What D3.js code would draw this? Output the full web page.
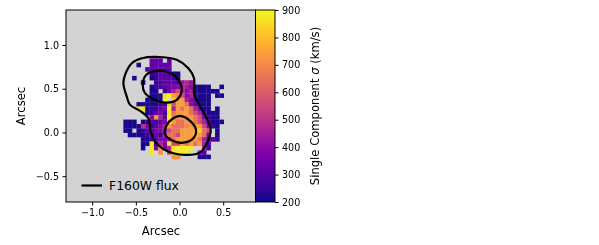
<!DOCTYPE html>
<html lang="en">
<head>
<meta charset="utf-8">
<style>
  body { margin: 0; background: white; }
  svg { display: block; font-family: "DejaVu Sans", sans-serif; filter: blur(0.35px); }
  .tick text { font-size: 9.6px; fill: #000; font-family: "DejaVu Sans", sans-serif; }
  .domain { display: none; }
</style>
<title></title>
</head>
<body>
<script src="https://d3js.org/d3.v7.min.js"></script>
<script>
const _ = null;

// velocity dispersion map, 0.05" cells
const cellSize = 0.05;
const gridLeft = -0.643;
const gridTop = 0.847;
const sigmaRows = [
  [_,_,_,_,_,_,330,330,330,_,330,_,_,_,_,_,_,_,_,_,_,_,_],
  [_,_,_,215,_,_,330,340,340,330,330,_,_,_,_,_,_,_,_,_,_,_,_],
  [_,_,_,_,_,280,330,340,340,340,330,_,_,_,_,_,_,_,_,_,_,_,_],
  [_,_,_,_,_,_,260,260,320,320,280,230,215,_,_,_,_,_,_,_,_,_,_],
  [_,_,215,_,_,_,215,260,320,320,320,260,215,_,_,_,_,_,_,_,_,_,_],
  [_,_,_,_,215,_,_,240,280,320,320,320,280,430,480,420,_,_,_,_,_,_,_],
  [_,_,_,_,_,_,215,260,280,320,360,380,400,460,440,400,215,215,215,215,_,_,215],
  [_,_,_,_,_,_,215,215,_,260,360,460,560,460,400,460,215,215,215,215,215,215,_],
  [_,_,_,_,_,_,215,215,215,860,890,740,700,560,400,460,260,215,215,215,_,215,215],
  [_,_,_,_,_,215,215,215,215,890,_,820,740,740,460,400,260,215,215,215,_,_,_],
  [_,_,_,215,215,215,215,215,260,260,820,560,740,740,650,400,320,215,215,215,_,_,_],
  [_,_,_,860,860,215,260,260,320,380,890,460,740,650,740,650,460,380,215,215,_,215,_],
  [_,_,_,_,_,215,260,320,380,260,860,650,740,740,740,650,560,460,320,215,215,215,_],
  [_,_,_,_,_,_,380,720,460,320,890,650,700,740,700,740,650,560,380,260,215,215,_],
  [215,215,215,_,215,260,320,260,320,380,860,740,650,650,740,740,650,560,460,260,215,215,215],
  [215,215,215,215,500,380,260,320,380,460,740,650,650,650,700,740,740,740,560,380,260,215,_],
  [215,215,_,215,260,320,320,380,380,460,560,650,650,740,740,740,740,820,650,560,_,215,_],
  [_,215,215,215,215,260,320,320,260,460,650,650,560,740,740,740,820,740,650,380,_,215,_],
  [_,_,_,_,215,215,260,320,380,380,460,650,740,740,740,740,740,650,460,260,320,260,_],
  [_,_,_,_,215,215,870,260,460,380,860,560,560,740,650,740,650,740,460,320,_,_,_],
  [_,_,_,_,215,_,870,380,720,380,460,860,880,880,880,880,_,_,460,260,_,_,_],
  [_,_,_,_,_,_,870,_,720,_,560,880,880,880,880,_,_,460,320,_,_,_,_],
  [_,_,_,_,_,_,_,_,_,_,_,720,720,_,_,_,_,215,215,215,_,_,_]
];

// F160W contours in arcsec
const contourOuter = [[-0.432,0.849],[-0.185,0.860],[-0.032,0.830],[0.101,0.735],[0.166,0.620],[0.166,0.449],[0.215,0.334],[0.311,0.162],[0.357,0.029],[0.311,-0.124],[0.235,-0.231],[0.082,-0.257],[-0.071,-0.238],[-0.185,-0.189],[-0.280,-0.105],[-0.330,0.009],[-0.357,0.162],[-0.452,0.246],[-0.566,0.315],[-0.604,0.410],[-0.643,0.563],[-0.624,0.658],[-0.547,0.792]];
const contourTop = [[-0.261,0.704],[-0.109,0.684],[-0.014,0.601],[0.025,0.486],[-0.032,0.372],[-0.146,0.341],[-0.280,0.372],[-0.395,0.449],[-0.421,0.543],[-0.383,0.658]];
const contourBottom = [[0.006,0.189],[0.120,0.132],[0.189,0.029],[0.158,-0.066],[0.043,-0.117],[-0.071,-0.097],[-0.166,-0.021],[-0.146,0.086],[-0.071,0.162]];

const xTicks = [-1.0, -0.5, 0.0, 0.5];
const yTicks = [-0.5, 0.0, 0.5, 1.0];
const cbarTicks = [200, 300, 400, 500, 600, 700, 800, 900];

const svg = d3.select("body").append("svg").attr("width", 599).attr("height", 245);

const x = d3.scaleLinear().domain([-1.30, 0.87]).range([66, 255.5]);
const y = d3.scaleLinear().domain([-0.795, 1.40]).range([202, 10]);
const cbarY = d3.scaleLinear().domain([200, 900]).range([202, 10]);
const color = d3.scaleSequential(d3.interpolatePlasma).domain([200, 900]);

svg.append("rect").attr("x", 66).attr("y", 10).attr("width", 189.5).attr("height", 192)
  .attr("fill", "lightgray");

// map cells
const cells = [];
sigmaRows.forEach(function(row, r) {
  row.forEach(function(v, c) {
    if (v !== null) cells.push({r: r, c: c, v: v});
  });
});
svg.append("g").selectAll("rect").data(cells).enter().append("rect")
  .attr("x", d => x(gridLeft + d.c * cellSize))
  .attr("y", d => y(gridTop - d.r * cellSize))
  .attr("width", x(cellSize) - x(0) + 0.2)
  .attr("height", y(0) - y(cellSize) + 0.2)
  .attr("fill", d => color(d.v));

// contours
const line = d3.line().x(d => x(d[0])).y(d => y(d[1])).curve(d3.curveCatmullRomClosed);
svg.append("g").selectAll("path")
  .data([contourOuter, contourTop, contourBottom]).enter().append("path")
  .attr("d", line).attr("fill", "none").attr("stroke", "black").attr("stroke-width", 2.2);

// legend
svg.append("line").attr("x1", 81.5).attr("x2", 102).attr("y1", 185.5).attr("y2", 185.5)
  .attr("stroke", "black").attr("stroke-width", 2.2);
svg.append("text").attr("x", 109).attr("y", 189.5).attr("font-size", 12.4).text("F160W flux");

// axes
const fmt = v => fmt1(v).replace("-", "\u2212");
const fmt1 = d3.format(".1f");
svg.append("g").attr("transform", "translate(0,202)")
  .call(d3.axisBottom(x).tickValues(xTicks).tickFormat(fmt).tickSize(3.5).tickPadding(3.5));
svg.append("g").attr("transform", "translate(66,0)")
  .call(d3.axisLeft(y).tickValues(yTicks).tickFormat(fmt).tickSize(3.5).tickPadding(3.5));

svg.append("rect").attr("x", 66).attr("y", 10).attr("width", 189.5).attr("height", 192)
  .attr("fill", "none").attr("stroke", "black").attr("stroke-width", 1);

// colorbar
const grad = svg.append("defs").append("linearGradient").attr("id", "cbar")
  .attr("x1", 0).attr("x2", 0).attr("y1", 1).attr("y2", 0);
d3.range(0, 1.001, 0.05).forEach(function(t) {
  grad.append("stop").attr("offset", t).attr("stop-color", d3.interpolatePlasma(t));
});
svg.append("rect").attr("x", 255.5).attr("y", 10).attr("width", 19.5).attr("height", 192)
  .attr("fill", "url(#cbar)").attr("stroke", "black").attr("stroke-width", 1);
svg.append("g").attr("transform", "translate(275,0)")
  .call(d3.axisRight(cbarY).tickValues(cbarTicks).tickSize(3.5).tickPadding(3.5));

// axis labels
svg.append("text").attr("x", 161).attr("y", 235).attr("text-anchor", "middle")
  .attr("font-size", 11.6).text("Arcsec");
svg.append("text").attr("transform", "translate(25,106) rotate(-90)").attr("text-anchor", "middle")
  .attr("font-size", 11.6).text("Arcsec");
const cbarLabel = svg.append("text").attr("transform", "translate(319,106) rotate(-90)")
  .attr("text-anchor", "middle").attr("font-size", 11.6);
cbarLabel.append("tspan").text("Single Component ");
cbarLabel.append("tspan").attr("font-style", "italic").text("σ");
cbarLabel.append("tspan").text(" (km/s)");
</script>
</body>
</html>
